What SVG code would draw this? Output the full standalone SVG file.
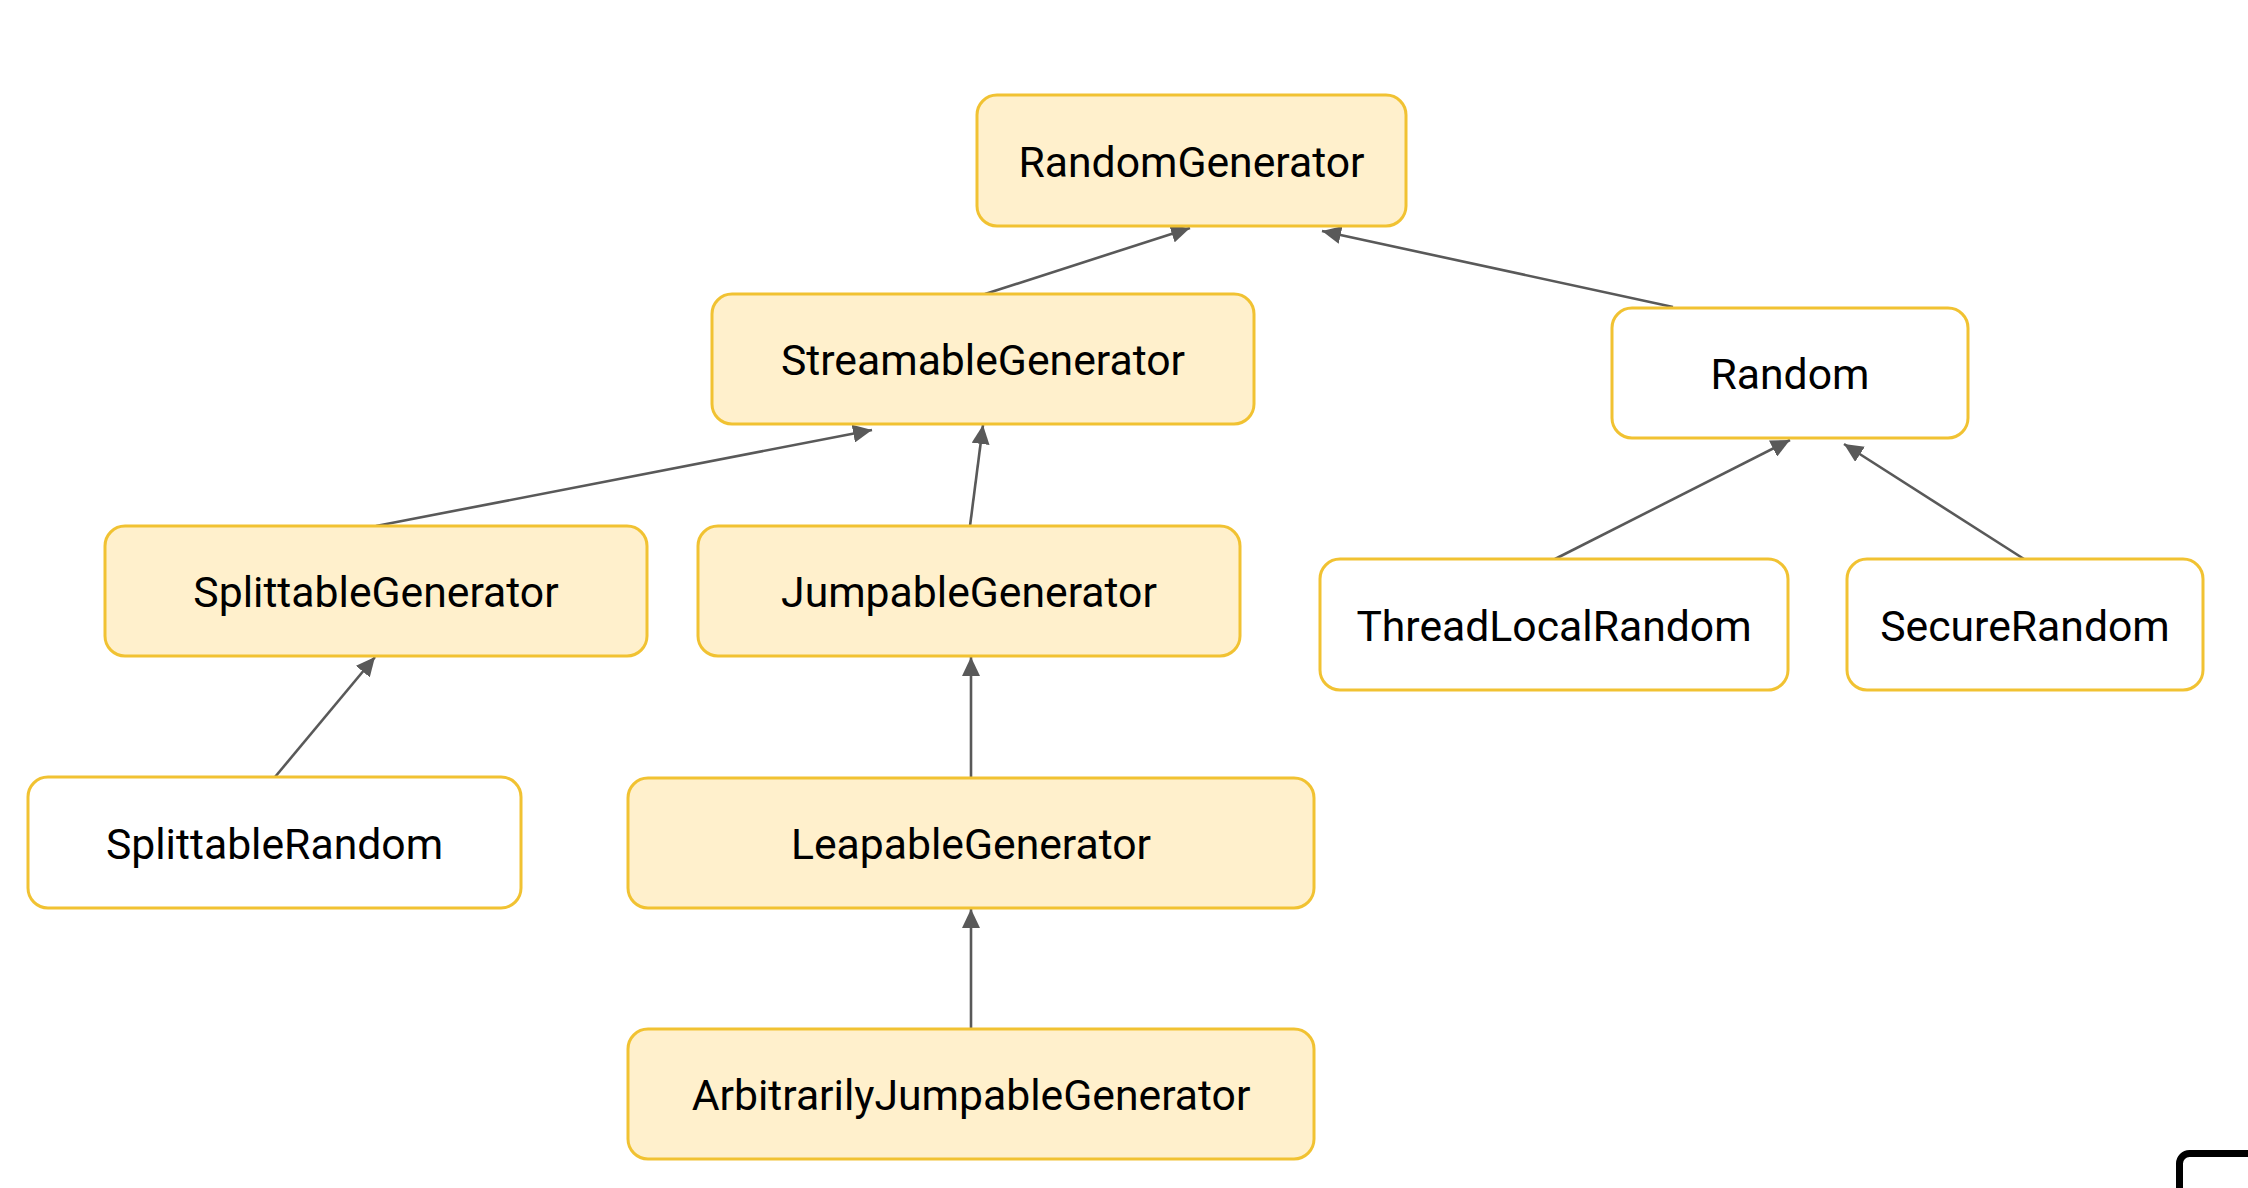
<svg xmlns="http://www.w3.org/2000/svg" width="2248" height="1188" viewBox="0 0 2248 1188">
<style>
.box{stroke:#f1c232;stroke-width:3}
.y{fill:#fff0cc}
.w{fill:#ffffff}
.lbl{font-family:Roboto,"Liberation Sans",sans-serif;font-size:42.7px;fill:#000;text-anchor:middle}
.edge{stroke:#595959;stroke-width:2.6;fill:none;marker-end:url(#arr)}
</style>
<defs>
<marker id="arr" markerUnits="userSpaceOnUse" markerWidth="20" markerHeight="18" refX="19" refY="9" orient="auto">
<path d="M0,0 L19,9 L0,18 z" fill="#595959"/>
</marker>
</defs>
<rect width="2248" height="1188" fill="#ffffff"/>
<g id="connectors">
<line class="edge" x1="985" y1="294" x2="1190" y2="228"/>
<line class="edge" x1="1673" y1="307" x2="1322" y2="231"/>
<line class="edge" x1="376" y1="526" x2="872" y2="430"/>
<line class="edge" x1="970" y1="526" x2="983" y2="425"/>
<line class="edge" x1="1555" y1="559" x2="1790" y2="440"/>
<line class="edge" x1="2024" y1="559" x2="1844" y2="444"/>
<line class="edge" x1="275" y1="777" x2="375" y2="657"/>
<line class="edge" x1="971" y1="778" x2="971" y2="657"/>
<line class="edge" x1="971" y1="1029" x2="971" y2="909"/>
</g>
<g id="n-RandomGenerator"><rect class="box y" x="977" y="95" width="429" height="131" rx="20"/><text class="lbl" x="1191.5" y="177">RandomGenerator</text></g>
<g id="n-StreamableGenerator"><rect class="box y" x="712" y="294" width="542" height="130" rx="20"/><text class="lbl" x="983" y="375">StreamableGenerator</text></g>
<g id="n-Random"><rect class="box w" x="1612" y="308" width="356" height="130" rx="20"/><text class="lbl" x="1790" y="389">Random</text></g>
<g id="n-SplittableGenerator"><rect class="box y" x="105" y="526" width="542" height="130" rx="20"/><text class="lbl" x="376" y="607">SplittableGenerator</text></g>
<g id="n-JumpableGenerator"><rect class="box y" x="698" y="526" width="542" height="130" rx="20"/><text class="lbl" x="969" y="607">JumpableGenerator</text></g>
<g id="n-ThreadLocalRandom"><rect class="box w" x="1320" y="559" width="468" height="131" rx="20"/><text class="lbl" x="1554" y="641">ThreadLocalRandom</text></g>
<g id="n-SecureRandom"><rect class="box w" x="1847" y="559" width="356" height="131" rx="20"/><text class="lbl" x="2025" y="641">SecureRandom</text></g>
<g id="n-SplittableRandom"><rect class="box w" x="28" y="777" width="493" height="131" rx="20"/><text class="lbl" x="274.5" y="859">SplittableRandom</text></g>
<g id="n-LeapableGenerator"><rect class="box y" x="628" y="778" width="686" height="130" rx="20"/><text class="lbl" x="971" y="859">LeapableGenerator</text></g>
<g id="n-ArbitrarilyJumpableGenerator"><rect class="box y" x="628" y="1029" width="686" height="130" rx="20"/><text class="lbl" x="971" y="1110">ArbitrarilyJumpableGenerator</text></g>
<rect x="2179.5" y="1153.5" width="120" height="80" rx="10" fill="#ffffff" stroke="#000000" stroke-width="7"/>
</svg>
